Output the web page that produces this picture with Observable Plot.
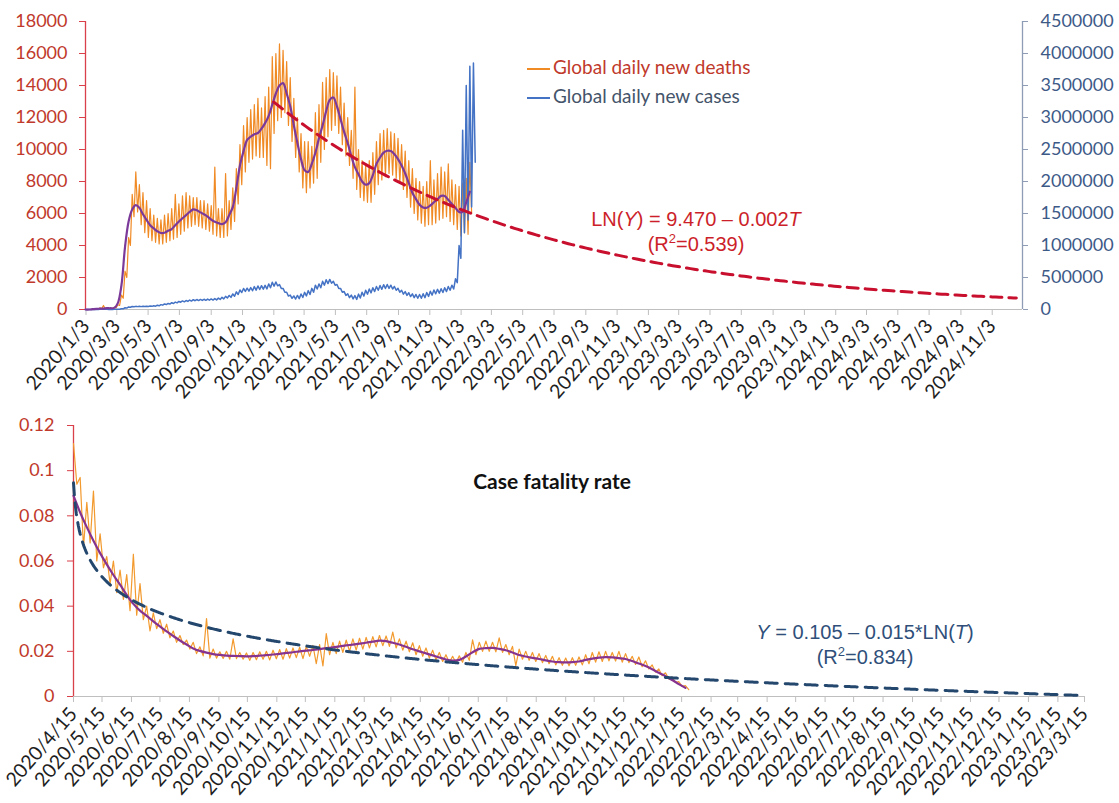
<!DOCTYPE html>
<html>
<head>
<meta charset="utf-8">
<script src="https://cdn.jsdelivr.net/npm/d3@7"></script>
<script src="https://cdn.jsdelivr.net/npm/@observablehq/plot@0.6"></script>
<style>
  body { margin: 0; background: #fff; }
  #wrap { position: relative; width: 1119px; height: 803px; overflow: hidden; font-family: Lato, "Noto Sans", sans-serif; }
  .chart { position: absolute; left: 0; }
  .legend { position: absolute; left: 527px; font-size: 19px; line-height: 24px; white-space: nowrap; }
  .legend .sw { display: inline-block; width: 23px; height: 0; vertical-align: middle; margin-right: 3px; }
  .eq { position: absolute; font-family: "Liberation Sans", Arial, sans-serif; font-size: 20px; line-height: 25px; text-align: center; white-space: nowrap; }
  .eq sup { font-size: 13px; line-height: 0; }
  .title { position: absolute; font-weight: bold; font-size: 21px; color: #111; text-align: center; white-space: nowrap; }
</style>
</head>
<body>
<div id="wrap">
  <div id="upper" class="chart" style="top:0"></div>
  <div id="lower" class="chart" style="top:415px"></div>

  <div class="legend" style="top:55px"><span class="sw" style="border-top:2px solid #f08a24"></span><span style="color:#c0392b">Global daily new deaths</span></div>
  <div class="legend" style="top:84px"><span class="sw" style="border-top:2px solid #4472c4"></span><span style="color:#44546a">Global daily new cases</span></div>

  <div class="eq" style="left:566px; width:260px; top:207px; color:#cc1f2a">LN(<i>Y</i>) = 9.470 – 0.002<i>T</i><br>(R<sup>2</sup>=0.539)</div>
  <div class="eq" style="left:735px; width:260px; top:620px; color:#2f4f7a"><i>Y</i> = 0.105 – 0.015*LN(<i>T</i>)<br>(R<sup>2</sup>=0.834)</div>

  <div class="title" style="left:452px; width:200px; top:468px">Case fatality rate</div>
</div>

<script>
// ---------- Global daily deaths and cases (weekly high / low readings from 2020/1/2) ----------
const seriesStart = "2020/1/2";

const deathsHigh = [
  0, 0, 30, 60, 100, 250, 120, 90, 150, 300,
  900, 2400, 4500, 7200, 8600, 7800, 7300, 6800, 6300, 5900,
  5700, 5600, 5900, 6000, 6300, 7200, 6600, 7100, 7300, 7100,
  7000, 7000, 6800, 6800, 6600, 6500, 8900, 6300, 6300, 8500,
  6800, 7600, 8800, 10300, 11500, 12000, 12500, 12800, 13200, 12600,
  13300, 13900, 15800, 16000, 16600, 16200, 15500, 14500, 13200, 12000,
  11000, 10500, 10500, 10200, 12300, 12800, 14200, 14500, 15000, 14800,
  14600, 13900, 12900, 12000, 11200, 13900, 10000, 9300, 9000, 9300,
  9800, 10500, 11000, 11200, 11300, 11100, 11000, 10700, 10300, 9900,
  9300, 8800, 8200, 8000, 7700, 8000, 9300, 8100, 8500, 8900,
  8600, 9100, 8100, 7800, 7700, 7900, 8200, 9200
];
const deathsLow = [
  0, 0, 10, 30, 40, 30, 40, 50, 100, 250,
  700, 2000, 4000, 5800, 6100, 5300, 4800, 4500, 4300, 4200,
  4100, 4100, 4200, 4300, 4400, 4500, 4700, 4900, 5100, 5200,
  5300, 5200, 5100, 5000, 4900, 4700, 4600, 4500, 4500, 4600,
  5000, 5500, 6600, 7800, 8600, 9200, 9400, 9600, 9500, 9500,
  9000, 8800, 11000, 11800, 12000, 12300, 11500, 10500, 9500, 8600,
  7600, 7300, 7600, 7900, 8200, 9200, 10000, 10800, 11200, 11500,
  11000, 10300, 9600, 9000, 8200, 7500, 7000, 6800, 6700, 6700,
  7200, 7800, 8100, 8300, 8500, 8400, 8200, 7900, 7500, 7000,
  6400, 6000, 5600, 5400, 5200, 5300, 5300, 5400, 5600, 5700,
  5800, 5500, 5300, 5000, 4600, 4800, 4700, 6000
];
// smoothed deaths, one value per week
const deathsSmooth = [
  0, 0, 20, 40, 50, 60, 80, 80, 100, 400,
  1500, 3900, 5500, 6250, 6520, 6350, 5950, 5600, 5270, 5070,
  4890, 4780, 4800, 4920, 5030, 5270, 5500, 5700, 5900, 6100,
  6260, 6200, 6070, 5950, 5800, 5620, 5480, 5400, 5340, 5450,
  5900, 6400, 7600, 9000, 9900, 10600, 10800, 10950, 11030, 11300,
  11650, 12100, 12800, 13500, 14000, 14150, 13500, 12700, 11500, 10400,
  9400, 8700, 8600, 9100, 9800, 10700, 11500, 12400, 13100, 13250,
  12700, 11900, 11100, 10400, 9600, 8900, 8450, 8000, 7800, 7900,
  8400, 9100, 9500, 9800, 9920, 9900, 9700, 9400, 9000, 8500,
  7900, 7300, 6900, 6550, 6380, 6360, 6500, 6700, 6900, 7100,
  7100, 6850, 6600, 6350, 6100, 6100, 6700, 7360
];
// daily new cases, in thousands
const casesHighK = [
  0, 0.1, 0.6, 2.5, 3.5, 3.2, 2.2, 1.8, 2.8, 5.5,
  13, 27, 40, 47, 49, 49, 50, 51, 53, 58,
  66, 76, 87, 95, 106, 116, 126, 134, 140, 148,
  153, 156, 158, 160, 163, 165, 170, 178, 190, 205,
  220, 243, 275, 305, 328, 333, 343, 357, 368, 372,
  378, 400, 425, 430, 390, 330, 270, 225, 212, 220,
  242, 268, 295, 330, 380, 400, 440, 465, 470, 440,
  390, 330, 280, 245, 225, 218, 240, 270, 300, 320,
  340, 360, 375, 388, 390, 380, 360, 330, 300, 280,
  262, 245, 235, 235, 245, 265, 285, 305, 315, 325,
  340, 360, 380, 480, 1000, 2800, 3500, 3800, 3850
];
const casesLowK = [
  0, 0.05, 0.4, 1.5, 2.5, 2.5, 1.5, 1.2, 2.2, 4.5,
  11, 23, 36, 43, 45, 45, 46, 47, 49, 52,
  58, 68, 77, 85, 94, 104, 114, 120, 126, 132,
  137, 140, 142, 144, 145, 147, 150, 158, 166, 179,
  190, 207, 235, 265, 282, 287, 293, 303, 312, 318,
  322, 340, 365, 370, 330, 270, 210, 175, 164, 170,
  188, 212, 235, 270, 320, 340, 380, 405, 410, 380,
  330, 270, 220, 185, 165, 158, 180, 210, 240, 260,
  280, 300, 315, 328, 330, 320, 300, 270, 240, 220,
  202, 185, 175, 175, 185, 205, 225, 245, 255, 265,
  280, 300, 320, 420, 800, 1200, 1400, 1600, 2300
];

// Exponential fit of deaths: LN(Y) = 9.470 - 0.002T, T in days from 2021/1/3
const deathFit = { a: 9.470, b: -0.002, from: "2021/1/3", to: "2024/12/20" };

const topTickLabels = [
  "2020/1/3", "2020/3/3", "2020/5/3", "2020/7/3", "2020/9/3", "2020/11/3",
  "2021/1/3", "2021/3/3", "2021/5/3", "2021/7/3", "2021/9/3", "2021/11/3",
  "2022/1/3", "2022/3/3", "2022/5/3", "2022/7/3", "2022/9/3", "2022/11/3",
  "2023/1/3", "2023/3/3", "2023/5/3", "2023/7/3", "2023/9/3", "2023/11/3",
  "2024/1/3", "2024/3/3", "2024/5/3", "2024/7/3", "2024/9/3", "2024/11/3"
];
const deathTicks = [0, 2000, 4000, 6000, 8000, 10000, 12000, 14000, 16000, 18000];
const casesTicks = [0, 500000, 1000000, 1500000, 2000000, 2500000, 3000000, 3500000, 4000000, 4500000];

// ---------- Case fatality rate (weekly high / low readings from 2020/4/15) ----------
const cfrStart = "2020/4/15";
const cfrHigh = [
  .112, .097, .086, .091, .072, .062, .060, .056, .054, .063,
  .050, .040, .037, .034, .032, .029, .027, .025, .024, .022,
  .0345, .021, .0198, .020, .0255, .0195, .0193, .0195, .0198, .0200,
  .0205, .0208, .0212, .0215, .0218, .0222, .0226, .0230, .0278, .0240,
  .0245, .0250, .0255, .0258, .0262, .0265, .0270, .0268, .0285, .0255,
  .0245, .0238, .0225, .0215, .0205, .0195, .0185, .0178, .0180, .0195,
  .0251, .0240, .0245, .0240, .0260, .0230, .0222, .0210, .0200, .0195,
  .0190, .0182, .0178, .0172, .0170, .0172, .0175, .0185, .0195, .0198,
  .0200, .0195, .0200, .0190, .0178, .0175, .0158, .0140, .0122, .0105,
  .0086, .0066, .0048
];
const cfrLow = [
  .094, .066, .068, .060, .057, .050, .046, .043, .038, .036,
  .034, .029, .030, .028, .026, .024, .023, .021, .019, .018,
  .017, .017, .0168, .0165, .0168, .0165, .0160, .0163, .0165, .0162,
  .0167, .0165, .0170, .0172, .0168, .0178, .0145, .0135, .0185, .0190,
  .0195, .0200, .0205, .0210, .0215, .0220, .0225, .0222, .0215, .0205,
  .0198, .0185, .0178, .0170, .0162, .0155, .0150, .0148, .0152, .0160,
  .0185, .0200, .0200, .0198, .0195, .0185, .0137, .0165, .0160, .0155,
  .0150, .0145, .0140, .0138, .0136, .0138, .0140, .0145, .0152, .0155,
  .0158, .0157, .0152, .0150, .0142, .0132, .0122, .0108, .0092, .0078,
  .0062, .0045, .0030
];
const cfrSmooth = [
  .0889, .0815, .0750, .0690, .0635, .0585, .0538, .0495, .0450, .0410,
  .0380, .0357, .0333, .0310, .0288, .0268, .0248, .0230, .0213, .0202,
  .0194, .0188, .0184, .0181, .0180, .0179, .0178, .0179, .0181, .0183,
  .0186, .0189, .0193, .0196, .0200, .0203, .0206, .0210, .0214, .0218,
  .0222, .0226, .0230, .0234, .0238, .0243, .0247, .0245, .0238, .0230,
  .0220, .0209, .0200, .0191, .0182, .0173, .0164, .0159, .0162, .0177,
  .0196, .0211, .0214, .0215, .0211, .0205, .0195, .0184, .0177, .0171,
  .0166, .0160, .0155, .0152, .0151, .0152, .0155, .0162, .0168, .0172,
  .0174, .0173, .0170, .0166, .0157, .0146, .0135, .0121, .0105, .0090,
  .0073, .0055, .0038
];

// Logarithmic fit: Y = 0.105 - 0.015*LN(T), T = 2 on 2020/4/15
const cfrFit = { a: 0.105, b: -0.015, t0: 2, from: "2020/4/15", to: "2023/3/15" };

const bottomTickLabels = [
  "2020/4/15", "2020/5/15", "2020/6/15", "2020/7/15", "2020/8/15", "2020/9/15",
  "2020/10/15", "2020/11/15", "2020/12/15", "2021/1/15", "2021/2/15", "2021/3/15",
  "2021/4/15", "2021/5/15", "2021/6/15", "2021/7/15", "2021/8/15", "2021/9/15",
  "2021/10/15", "2021/11/15", "2021/12/15", "2022/1/15", "2022/2/15", "2022/3/15",
  "2022/4/15", "2022/5/15", "2022/6/15", "2022/7/15", "2022/8/15", "2022/9/15",
  "2022/10/15", "2022/11/15", "2022/12/15", "2023/1/15", "2023/2/15", "2023/3/15"
];
const cfrTicks = [0, 0.02, 0.04, 0.06, 0.08, 0.1, 0.12];

// ---------- helpers ----------
const parseDay = s => { const [y, m, d] = s.split("/").map(Number); return new Date(Date.UTC(y, m - 1, d)); };
const addDays = (date, n) => new Date(date.getTime() + n * 864e5);
const DAY = 864e5;

// alternate each week's high and its mid-week low into one zig-zag series
function zigzag(start, highs, lows, scale = 1) {
  const s = parseDay(start), out = [];
  highs.forEach((v, i) => {
    out.push({ date: addDays(s, 7 * i), value: v * scale });
    if (lows[i] != null) out.push({ date: addDays(s, 7 * i + 3.5), value: lows[i] * scale });
  });
  return out;
}
function weekly(start, values) {
  const s = parseDay(start);
  return values.map((v, i) => ({ date: addDays(s, 7 * i), value: v }));
}

// cases share the left-hand scale: 4,500,000 cases per 18,000 deaths
const casesPerDeathUnit = casesTicks[casesTicks.length - 1] / deathTicks[deathTicks.length - 1];

const deathsRaw = zigzag(seriesStart, deathsHigh, deathsLow);
const casesRaw = zigzag(seriesStart, casesHighK, casesLowK, 1000 / casesPerDeathUnit);
const deathsSmoothed = weekly(seriesStart, deathsSmooth);

const fitFrom = parseDay(deathFit.from), fitTo = parseDay(deathFit.to);
const fitDays = Math.round((fitTo - fitFrom) / DAY);
const deathTrend = d3.range(0, fitDays + 1, 7).concat([fitDays]).map(t => ({
  date: addDays(fitFrom, t), value: Math.exp(deathFit.a + deathFit.b * t)
}));

const cfrRaw = zigzag(cfrStart, cfrHigh, cfrLow);
const cfrSmoothed = weekly(cfrStart, cfrSmooth);
const cFrom = parseDay(cfrFit.from), cTo = parseDay(cfrFit.to);
const cDays = Math.round((cTo - cFrom) / DAY);
const cfrTrend = d3.range(0, cDays + 1, 1).map(d => ({
  date: addDays(cFrom, d), value: cfrFit.a + cfrFit.b * Math.log(d + cfrFit.t0)
}));

const topTicks = topTickLabels.map(parseDay);
const topLabel = new Map(topTickLabels.map(s => [+parseDay(s), s]));
const bottomTicks = bottomTickLabels.map(parseDay);
const bottomLabel = new Map(bottomTickLabels.map(s => [+parseDay(s), s]));

const red = "#c0392b", redAxis = "#d9404a", blueAxis = "#8e9db5", blueText = "#3d5a87";
const gray = "#bfbfbf", ink = "#1e1e1e";
const dateLabelSize = 19.5, dateRotate = -49;

// ---------- upper chart: daily deaths and cases ----------
const topStart = parseDay("2020/1/2"), topEnd = parseDay("2025/1/1");
const upperChart = Plot.plot({
  width: 1119, height: 415,
  marginLeft: 85, marginRight: 97, marginTop: 21, marginBottom: 106,
  style: { fontFamily: "Lato, sans-serif", fontSize: "18px", background: "transparent", overflow: "visible" },
  x: { type: "utc", domain: [topStart, topEnd] },
  y: { domain: [0, 18000] },
  marks: [
    Plot.ruleY([0], { stroke: gray, strokeWidth: 1.2 }),
    Plot.axisX({ ticks: topTicks, tickFormat: d => topLabel.get(+d), tickRotate: dateRotate, tickSize: 6, tickPadding: 7,
                 fontSize: dateLabelSize, stroke: gray, fill: ink, label: null }),
    Plot.axisY({ ticks: deathTicks, tickFormat: d => String(d), tickSize: 6, tickPadding: 12,
                 stroke: redAxis, fill: red, label: null }),
    Plot.axisY({ anchor: "right", ticks: deathTicks, tickFormat: d => String(d * casesPerDeathUnit), tickSize: 5, tickPadding: 13,
                 stroke: blueAxis, fill: blueText, label: null }),
    Plot.ruleX([topStart], { stroke: redAxis, strokeWidth: 1.3 }),
    Plot.ruleX([topEnd], { stroke: blueAxis, strokeWidth: 1.3 }),
    Plot.line(deathsRaw, { x: "date", y: "value", stroke: "#f08a24", strokeWidth: 1.2 }),
    Plot.line(casesRaw, { x: "date", y: "value", stroke: "#4472c4", strokeWidth: 1.5 }),
    Plot.line(deathsSmoothed, { x: "date", y: "value", stroke: "#7b3a9a", strokeWidth: 2.2, curve: "catmull-rom" }),
    Plot.line(deathTrend, { x: "date", y: "value", stroke: "#c8102e", strokeWidth: 3, strokeDasharray: "11,7" })
  ]
});
document.getElementById("upper").appendChild(upperChart);

// ---------- lower chart: case fatality rate ----------
const botStart = parseDay("2020/4/15"), botEnd = parseDay("2023/3/15");
const lowerChart = Plot.plot({
  width: 1119, height: 388,
  marginLeft: 73, marginRight: 35, marginTop: 10, marginBottom: 107,
  style: { fontFamily: "Lato, sans-serif", fontSize: "18px", background: "transparent", overflow: "visible" },
  x: { type: "utc", domain: [botStart, botEnd] },
  y: { domain: [0, 0.12] },
  marks: [
    Plot.ruleY([0], { stroke: gray, strokeWidth: 1.2 }),
    Plot.axisX({ ticks: bottomTicks, tickFormat: d => bottomLabel.get(+d), tickRotate: dateRotate, tickSize: 6, tickPadding: 8,
                 fontSize: dateLabelSize, stroke: gray, fill: ink, label: null }),
    Plot.axisY({ ticks: cfrTicks, tickFormat: d => String(+d.toFixed(2)), tickSize: 6, tickPadding: 13,
                 stroke: redAxis, fill: red, label: null }),
    Plot.ruleX([botStart], { stroke: redAxis, strokeWidth: 1.3 }),
    Plot.line(cfrRaw, { x: "date", y: "value", stroke: "#f39a2e", strokeWidth: 1.2 }),
    Plot.line(cfrSmoothed, { x: "date", y: "value", stroke: "#86338f", strokeWidth: 2.2, curve: "catmull-rom" }),
    Plot.line(cfrTrend, { x: "date", y: "value", stroke: "#24476e", strokeWidth: 3, strokeDasharray: "12,8" })
  ]
});
document.getElementById("lower").appendChild(lowerChart);
</script>
</body>
</html>
